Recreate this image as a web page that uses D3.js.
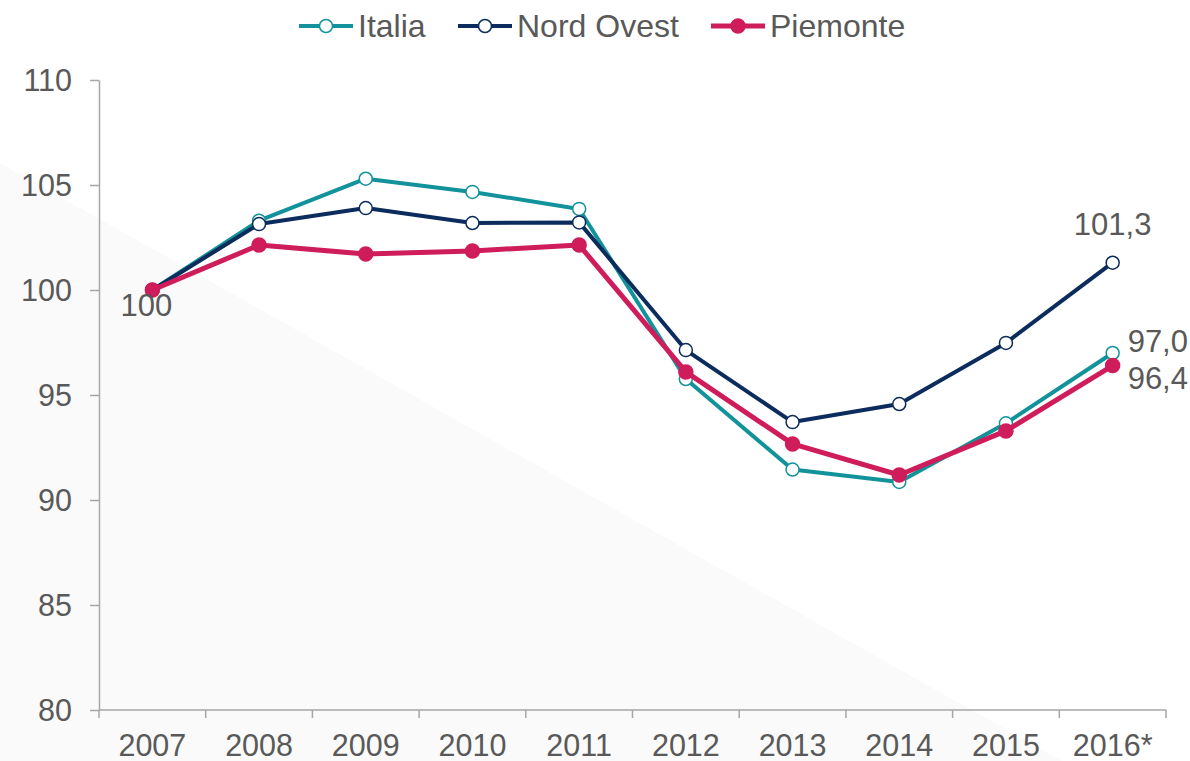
<!DOCTYPE html>
<html>
<head>
<meta charset="utf-8">
<script src="https://cdn.jsdelivr.net/npm/d3@7"></script>
<style>
  body { margin: 0; background: #fff; }
  svg text { font-family: "Liberation Sans", Arial, sans-serif; fill: #595959; }
  .axis path, .axis line { stroke: #a6a6a6; stroke-width: 1.5; }
</style>
</head>
<body>
<svg id="chart" width="1190" height="761"></svg>
<script>
var years = ["2007", "2008", "2009", "2010", "2011", "2012", "2013", "2014", "2015", "2016*"];
var italia = [100, 103.3, 105.3, 104.67, 103.86, 95.76, 91.45, 90.86, 93.65, 97.0];
var nordOvest = [100, 103.14, 103.9, 103.19, 103.22, 97.14, 93.71, 94.57, 97.48, 101.3];
var piemonte = [100, 102.14, 101.71, 101.86, 102.14, 96.1, 92.67, 91.19, 93.29, 96.4];
var yTicks = [80, 85, 90, 95, 100, 105, 110];

var series = [
  { name: "Italia", values: italia, color: "#12929a", filled: false, width: 4, r: 6.5, legendX: 299 },
  { name: "Nord Ovest", values: nordOvest, color: "#0b2c5c", filled: false, width: 4, r: 6.5, legendX: 458 },
  { name: "Piemonte", values: piemonte, color: "#cf1c5a", filled: true, width: 5, r: 7, legendX: 711 }
];

var svg = d3.select("#chart");
var margin = { left: 99, right: 1166, top: 80, bottom: 710 };

// faint background triangle
svg.append("polygon")
  .attr("points", "0,163 1062,761 0,761")
  .attr("fill", "#fafafa");

var x = d3.scaleBand().domain(years).range([margin.left, margin.right]);
var y = d3.scaleLinear().domain([80, 110]).range([margin.bottom, margin.top]);

var xAxis = svg.append("g")
  .attr("class", "axis")
  .attr("transform", "translate(0," + margin.bottom + ")")
  .call(d3.axisBottom(x).tickSize(0).tickPadding(24));
xAxis.select(".domain").attr("d", "M" + margin.left + ",0H" + margin.right);
xAxis.selectAll("text").attr("font-size", 30.5).attr("fill", "#595959");
// tick marks between categories
xAxis.selectAll(".sep")
  .data(d3.range(years.length + 1))
  .enter().append("line")
  .attr("x1", function(i) { return margin.left + i * x.step(); })
  .attr("x2", function(i) { return margin.left + i * x.step(); })
  .attr("y1", 0).attr("y2", 8);

var yAxis = svg.append("g")
  .attr("class", "axis")
  .attr("transform", "translate(" + margin.left + ",0)")
  .call(d3.axisLeft(y).tickValues(yTicks).tickSize(9).tickSizeOuter(0).tickPadding(18));
yAxis.selectAll("text").attr("font-size", 30.5).attr("fill", "#595959").attr("dy", "0.35em");

var line = d3.line()
  .x(function(d, i) { return x(years[i]) + x.bandwidth() / 2; })
  .y(function(d) { return y(d); });

series.forEach(function(s) {
  svg.append("path")
    .attr("d", line(s.values))
    .attr("fill", "none")
    .attr("stroke", s.color)
    .attr("stroke-width", s.width)
    .attr("stroke-linejoin", "round");

  svg.append("g").selectAll("circle")
    .data(s.values)
    .enter().append("circle")
    .attr("cx", function(d, i) { return x(years[i]) + x.bandwidth() / 2; })
    .attr("cy", function(d) { return y(d); })
    .attr("r", s.r)
    .attr("fill", s.filled ? s.color : "#fff")
    .attr("stroke", s.color)
    .attr("stroke-width", 1.5);

  // legend
  var lg = svg.append("g").attr("transform", "translate(" + s.legendX + ",26)");
  lg.append("line").attr("x1", 0).attr("x2", 54).attr("y1", 0).attr("y2", 0)
    .attr("stroke", s.color).attr("stroke-width", s.width);
  lg.append("circle").attr("cx", 27).attr("cy", 0).attr("r", s.r)
    .attr("fill", s.filled ? s.color : "#fff")
    .attr("stroke", s.color).attr("stroke-width", 1.5);
  lg.append("text").attr("x", 59).attr("y", 0).attr("dy", "0.35em")
    .attr("font-size", 32).text(s.name);
});

// value labels
var fmt = function(v) { return d3.format(".1f")(v).replace(".", ","); };
var last = years.length - 1;
var cxLast = x(years[last]) + x.bandwidth() / 2;
var cxFirst = x(years[0]) + x.bandwidth() / 2;
svg.append("text").attr("x", cxFirst - 6).attr("y", y(100) + 26)
  .attr("text-anchor", "middle").attr("font-size", 31).text("100");
svg.append("text").attr("x", cxLast).attr("y", y(nordOvest[last]) - 28)
  .attr("text-anchor", "middle").attr("font-size", 31).text(fmt(nordOvest[last]));
svg.append("text").attr("x", cxLast + 15).attr("y", y(italia[last]) - 1)
  .attr("font-size", 31).text(fmt(italia[last]));
svg.append("text").attr("x", cxLast + 15).attr("y", y(piemonte[last]) + 23)
  .attr("font-size", 31).text(fmt(piemonte[last]));
</script>
</body>
</html>
